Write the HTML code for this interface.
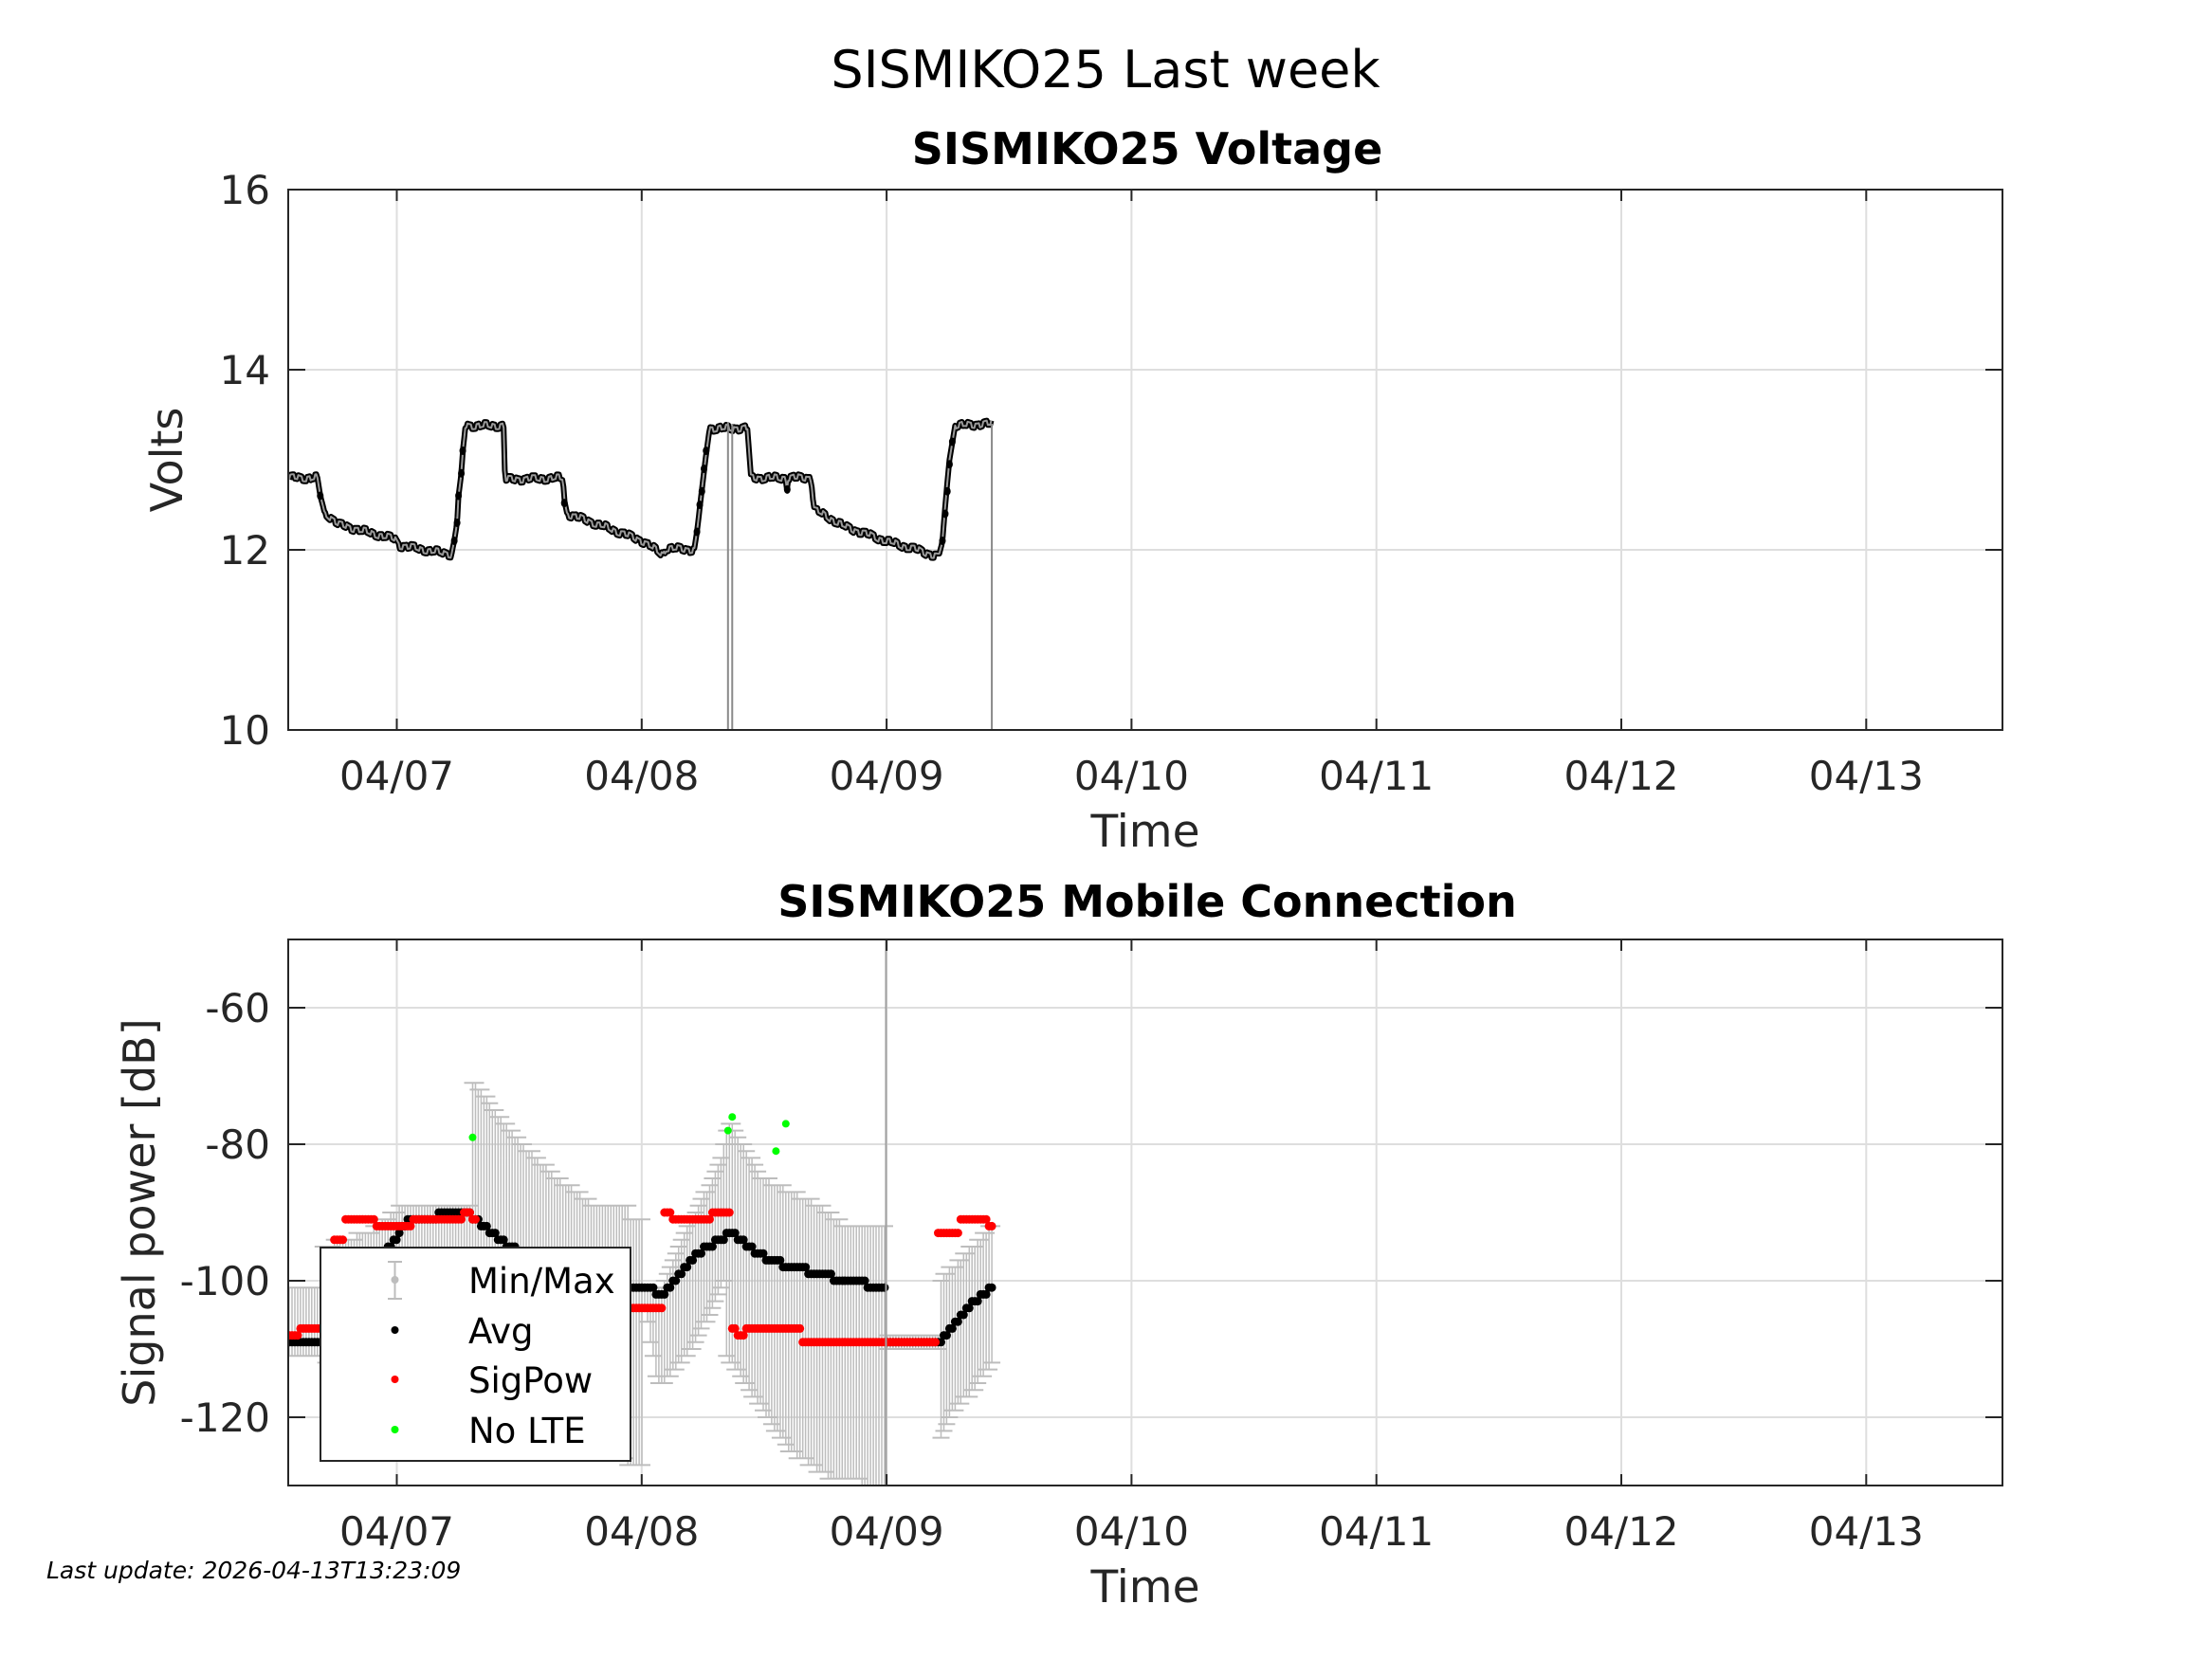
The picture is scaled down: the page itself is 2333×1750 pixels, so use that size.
<!DOCTYPE html>
<html><head><meta charset="utf-8">
<style>
html,body{margin:0;padding:0;background:#fff;}
svg{display:block;font-family:"DejaVu Sans","Liberation Sans",sans-serif;}
</style></head>
<body>
<svg id="s" width="2333" height="1750" viewBox="0 0 2333 1750" xmlns="http://www.w3.org/2000/svg">
<defs>
<clipPath id="c1"><rect x="304" y="200" width="1808" height="570"/></clipPath>
<clipPath id="c2"><rect x="304" y="991" width="1808" height="576"/></clipPath>
</defs>
<rect width="2333" height="1750" fill="#fff"/>
<text x="1166" y="92" font-size="54" text-anchor="middle" fill="#000">SISMIKO25 Last week</text>
<text x="1210" y="173" font-size="46" font-weight="bold" text-anchor="middle" fill="#000">SISMIKO25 Voltage</text>
<text x="1210" y="967" font-size="46" font-weight="bold" text-anchor="middle" fill="#000">SISMIKO25 Mobile Connection</text>
<g id="g1"></g>
<g id="g2"></g>
<text x="49" y="1665" font-size="25" font-style="italic" fill="#000">Last update: 2026-04-13T13:23:09</text>
</svg>
<script>
var NS="http://www.w3.org/2000/svg";
function el(p,t,a){var e=document.createElementNS(NS,t);for(var k in a)e.setAttribute(k,a[k]);p.appendChild(e);return e;}
function txt(p,x,y,s,a){var e=el(p,"text",Object.assign({x:x,y:y},a||{}));e.textContent=s;return e;}
var L=304,R=2112;
function X(xd){return xd*1.488;}
var days=["04/07","04/08","04/09","04/10","04/11","04/12","04/13"];
function axes(g,top,bot,yt,yf){
  for(var i=0;i<7;i++){var x=418.5+258.3*i;el(g,"line",{x1:x,y1:top,x2:x,y2:bot,stroke:"#dedede","stroke-width":2});}
  yt.forEach(function(v){var y=yf(v);el(g,"line",{x1:L,y1:y,x2:R,y2:y,stroke:"#dedede","stroke-width":2});});
}
function frame(g,top,bot,yt,yf,lab,ylabel,ylx){
  for(var i=0;i<7;i++){var x=418.5+258.3*i;
    el(g,"line",{x1:x,y1:bot,x2:x,y2:bot-12,stroke:"#262626","stroke-width":2});
    el(g,"line",{x1:x,y1:top,x2:x,y2:top+12,stroke:"#262626","stroke-width":2});
    txt(g,x,bot+63,days[i],{"font-size":42,"text-anchor":"middle",fill:"#262626"});}
  yt.forEach(function(v,j){var y=yf(v);
    el(g,"line",{x1:L,y1:y,x2:L+18,y2:y,stroke:"#262626","stroke-width":2});
    el(g,"line",{x1:R,y1:y,x2:R-18,y2:y,stroke:"#262626","stroke-width":2});
    txt(g,285,y+15,lab[j],{"font-size":42,"text-anchor":"end",fill:"#262626"});});
  el(g,"rect",{x:L,y:top,width:R-L,height:bot-top,fill:"none",stroke:"#262626","stroke-width":2});
  txt(g,1208,bot+123,"Time",{"font-size":47,"text-anchor":"middle",fill:"#262626"});
  var cy=(top+bot)/2;
  txt(g,ylx,cy,ylabel,{"font-size":46,"text-anchor":"middle",fill:"#262626",transform:"rotate(-90 "+ylx+" "+cy+")"});
}
function interp(A,x){if(x<=A[0][0])return A[0][1];for(var i=1;i<A.length;i++){if(x<=A[i][0]){var a=A[i-1],b=A[i];return a[1]+(b[1]-a[1])*(x-a[0])/(b[0]-a[0]);}}return A[A.length-1][1];}
function step(A,x){var v=A[0][1];for(var i=0;i<A.length;i++){if(x>=A[i][0])v=A[i][1];}return v;}
// ---- voltage
var g1=document.getElementById("g1");
function YV(v){return 200+(16-v)*95;}
axes(g1,200,770,[16,14,12,10],YV);
var vA=[[205,12.8],[225,12.8],[227,12.6],[230,12.42],[233,12.38],[240,12.28],[260,12.2],[280,12.12],[283,12.05],[320,11.95],[322,12.1],[324,12.3],[325,12.6],[327,12.85],[328,13.1],[330,13.38],[357,13.38],[358,12.78],[399,12.8],[400,12.55],[402,12.4],[430,12.25],[455,12.1],[470,11.95],[472,12.02],[492,12.0],[494,12.2],[497,12.6],[500,13.0],[503,13.35],[530,13.35],[532,12.8],[575,12.8],[577,12.45],[600,12.25],[628,12.1],[650,12.0],[665,11.92],[668,12.1],[670,12.5],[673,13.0],[677,13.38],[703,13.4]];
var cg1=el(g1,"g",{"clip-path":"url(#c1)"});
var pts=[];
for(var xd=205;xd<=703;xd+=0.8){var v=interp(vA,xd);
  var rising=(xd>320&&xd<330)||(xd>492&&xd<503)||(xd>668&&xd<677)||(xd>225&&xd<231)||(xd>399&&xd<403);
  if(!rising)v+=0.025*(Math.sin(xd*1.1)>0?1:-1)+0.015*Math.sin(xd*0.37);
  if(Math.abs(xd-558)<0.5)v=12.67;
  pts.push([X(xd),YV(v)]);}
var d="M"+pts.map(function(p){return p[0].toFixed(1)+","+p[1].toFixed(1);}).join("L");
el(cg1,"path",{d:d,fill:"none",stroke:"#000","stroke-width":6,"stroke-linejoin":"round"});
el(cg1,"path",{d:d,fill:"none",stroke:"#9a9a9a","stroke-width":2,"stroke-linejoin":"round"});
[[516,13.42],[519,13.4]].forEach(function(s){el(cg1,"line",{x1:X(s[0]),y1:YV(s[1]),x2:X(s[0]),y2:771,stroke:"#8a8a8a","stroke-width":2});});
el(cg1,"line",{x1:X(703),y1:YV(13.4),x2:X(703),y2:771,stroke:"#8a8a8a","stroke-width":2});
[[227,12.6],[322,12.1],[324,12.3],[325,12.6],[327,12.85],[328,13.1],[400,12.52],[494,12.2],[496,12.5],[497.5,12.65],[499,12.9],[500.5,13.1],[558,12.67],[668,12.1],[670,12.4],[671.5,12.65],[673,12.95],[675,13.2]].forEach(function(p){el(cg1,"ellipse",{cx:X(p[0]),cy:YV(p[1]),rx:3.5,ry:4.5,fill:"#000"});});
frame(g1,200,770,[16,14,12,10],YV,["16","14","12","10"],"Volts",192);
// ---- signal
var g2=document.getElementById("g2");
function YS(v){return 991+(-50-v)*7.2;}
axes(g2,991,1567,[-60,-80,-100,-120],YS);
var cg2=el(g2,"g",{"clip-path":"url(#c2)"});
var maxA=[[205,-101],[228,-101],[229,-95],[260,-93],[285,-89],[334,-89],[335,-71],[345,-73],[350,-75],[358,-77],[366,-79],[375,-81],[385,-83],[395,-85],[410,-87],[420,-89],[445,-89],[446,-91],[456,-91],[457,-101],[470,-101],[490,-91],[510,-83],[515,-78],[518,-77],[540,-85],[580,-89],[600,-92],[628,-92],[629,-108],[665,-108],[666,-100],[703,-92]];
var minA=[[205,-111],[228,-111],[260,-118],[330,-118],[334,-100],[340,-100],[445,-127],[456,-127],[457,-104],[466,-115],[470,-115],[490,-110],[505,-104],[514,-100],[515,-111],[525,-114],[560,-125],[590,-129],[628,-130],[629,-110],[665,-110],[666,-123],[675,-119],[690,-116],[703,-112]];
var avgA=[[205,-109],[228,-109],[290,-91],[330,-90],[360,-95],[420,-100],[456,-101],[470,-102],[495,-96],[518,-93],[545,-97],[600,-100],[628,-101],[629,-109],[665,-109],[690,-103],[703,-101]];
var sigS=[[205,-108],[212,-107],[228,-107],[236,-94],[244,-91],[262,-91],[266,-92],[288,-92],[292,-91],[328,-90],[334,-91],[338,-106],[440,-104],[471,-90],[476,-91],[505,-90],[518,-107],[522,-108],[528,-107],[560,-107],[568,-109],[664,-93],[680,-91],[700,-92]];
var eb="",ca="",av=[],sg=[];
for(var xd=205;xd<=703;xd+=2){var x=X(xd);
  var mx=Math.round(interp(maxA,xd)),mn=Math.round(interp(minA,xd));
  eb+="M"+x.toFixed(1)+","+YS(mx).toFixed(1)+"V"+YS(mn).toFixed(1);
  ca+="M"+(x-9).toFixed(1)+","+YS(mx).toFixed(1)+"h18M"+(x-9).toFixed(1)+","+YS(mn).toFixed(1)+"h18";
  av.push([x,YS(Math.round(interp(avgA,xd)))]);
  sg.push([x,YS(step(sigS,xd))]);}
el(cg2,"path",{d:eb,stroke:"#bdbdbd","stroke-width":1.5,fill:"none"});
el(cg2,"path",{d:ca,stroke:"#bdbdbd","stroke-width":2,fill:"none"});
av.forEach(function(p){el(cg2,"circle",{cx:p[0],cy:p[1],r:4.5,fill:"#000"});});
sg.forEach(function(p){el(cg2,"circle",{cx:p[0],cy:p[1],r:4.5,fill:"#f00"});});
[[335,-79],[516,-78],[519,-76],[550,-81],[557,-77]].forEach(function(p){el(cg2,"circle",{cx:X(p[0]),cy:YS(p[1]),r:4,fill:"#0f0"});});
el(cg2,"line",{x1:X(628),y1:991,x2:X(628),y2:1567,stroke:"#a0a0a0","stroke-width":2});
frame(g2,991,1567,[-60,-80,-100,-120],YS,["-60","-80","-100","-120"],"Signal power [dB]",163);
var lg=el(g2,"g",{});
el(lg,"rect",{x:338,y:1316,width:327,height:225,fill:"#fff",stroke:"#262626","stroke-width":2});
el(lg,"path",{d:"M416.5,1331V1370M409,1331h15M409,1370h15",stroke:"#bdbdbd","stroke-width":2,fill:"none"});
el(lg,"circle",{cx:416.5,cy:1350,r:4,fill:"#bdbdbd"});
el(lg,"circle",{cx:416.5,cy:1403,r:4,fill:"#000"});
el(lg,"circle",{cx:416.5,cy:1455,r:4,fill:"#f00"});
el(lg,"circle",{cx:416.5,cy:1508,r:4,fill:"#0f0"});
[["Min/Max",1350],["Avg",1403],["SigPow",1455],["No LTE",1508]].forEach(function(t){txt(lg,494,t[1]+14,t[0],{"font-size":37,fill:"#000"});});
</script>
</body></html>
